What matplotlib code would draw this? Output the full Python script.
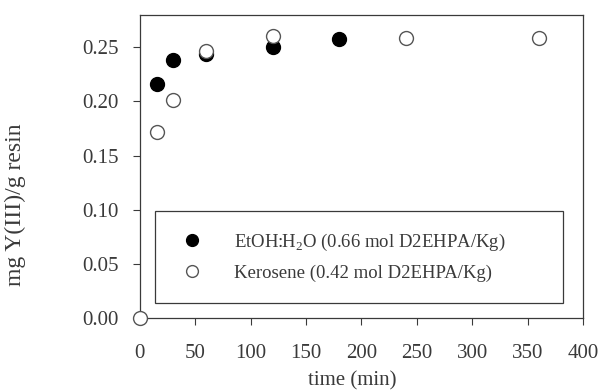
import matplotlib.pyplot as plt

plt.rcParams['font.family'] = ['Liberation Serif', 'DejaVu Serif']
plt.rcParams['mathtext.fontset'] = 'custom'
plt.rcParams['mathtext.rm'] = 'Liberation Serif'

# adsorption kinetics, Y(III) on impregnated resin
t_etoh = [15, 30, 60, 120, 180]
q_etoh = [0.216, 0.238, 0.244, 0.250, 0.258]

t_kero = [0, 15, 30, 60, 120, 240, 360]
q_kero = [0.0, 0.172, 0.201, 0.247, 0.260, 0.259, 0.259]

xticks = [0, 50, 100, 150, 200, 250, 300, 350, 400]
yticks = [0.00, 0.05, 0.10, 0.15, 0.20, 0.25]

ink = '#3a3a3a'

fig = plt.figure(figsize=(6.03, 3.90), dpi=100)
ax = fig.add_axes([0.232, 0.185, 0.735, 0.777])

ax.plot(t_etoh, q_etoh, 'o', ms=10, mfc='black', mec='black',
        label='EtOH:H$_2$O (0.66 mol D2EHPA/Kg)', clip_on=False, zorder=3)
ax.plot(t_kero, q_kero, 'o', ms=10, mfc='white', mec='#555555', mew=1.0,
        label='Kerosene (0.42 mol D2EHPA/Kg)', clip_on=False, zorder=3)

ax.set_xlim(0, 400)
ax.set_ylim(0, 0.28)
ax.set_xticks(xticks)
ax.set_yticks(yticks)
ax.set_yticklabels([f'{v:.2f}' for v in yticks])
ax.tick_params(direction='out', length=5, width=0.8, colors=ink,
               labelsize=15)
ax.tick_params(axis='x', pad=14)
ax.tick_params(axis='y', pad=10)
for s in ax.spines.values():
    s.set_color(ink)
    s.set_linewidth(0.9)

ax.set_xlabel('time (min)', fontsize=15, color=ink)
ax.xaxis.set_label_coords(0.48, -0.175)
ax.set_ylabel('mg Y(III)/g resin', fontsize=17, color=ink)
ax.yaxis.set_label_coords(-0.257, 0.373)

leg = ax.legend(loc='lower left', bbox_to_anchor=(0.034, 0.05, 0.92, 0.297),
                mode='expand', borderaxespad=0, fancybox=False,
                edgecolor=ink, framealpha=1, fontsize=13.5, borderpad=1.1,
                labelspacing=0.65, handlelength=1.8, handletextpad=1.3,
                markerscale=0.85)
for txt in leg.get_texts():
    txt.set_color(ink)
leg.get_frame().set_linewidth(0.9)

fig.savefig('out.png', dpi=100)
